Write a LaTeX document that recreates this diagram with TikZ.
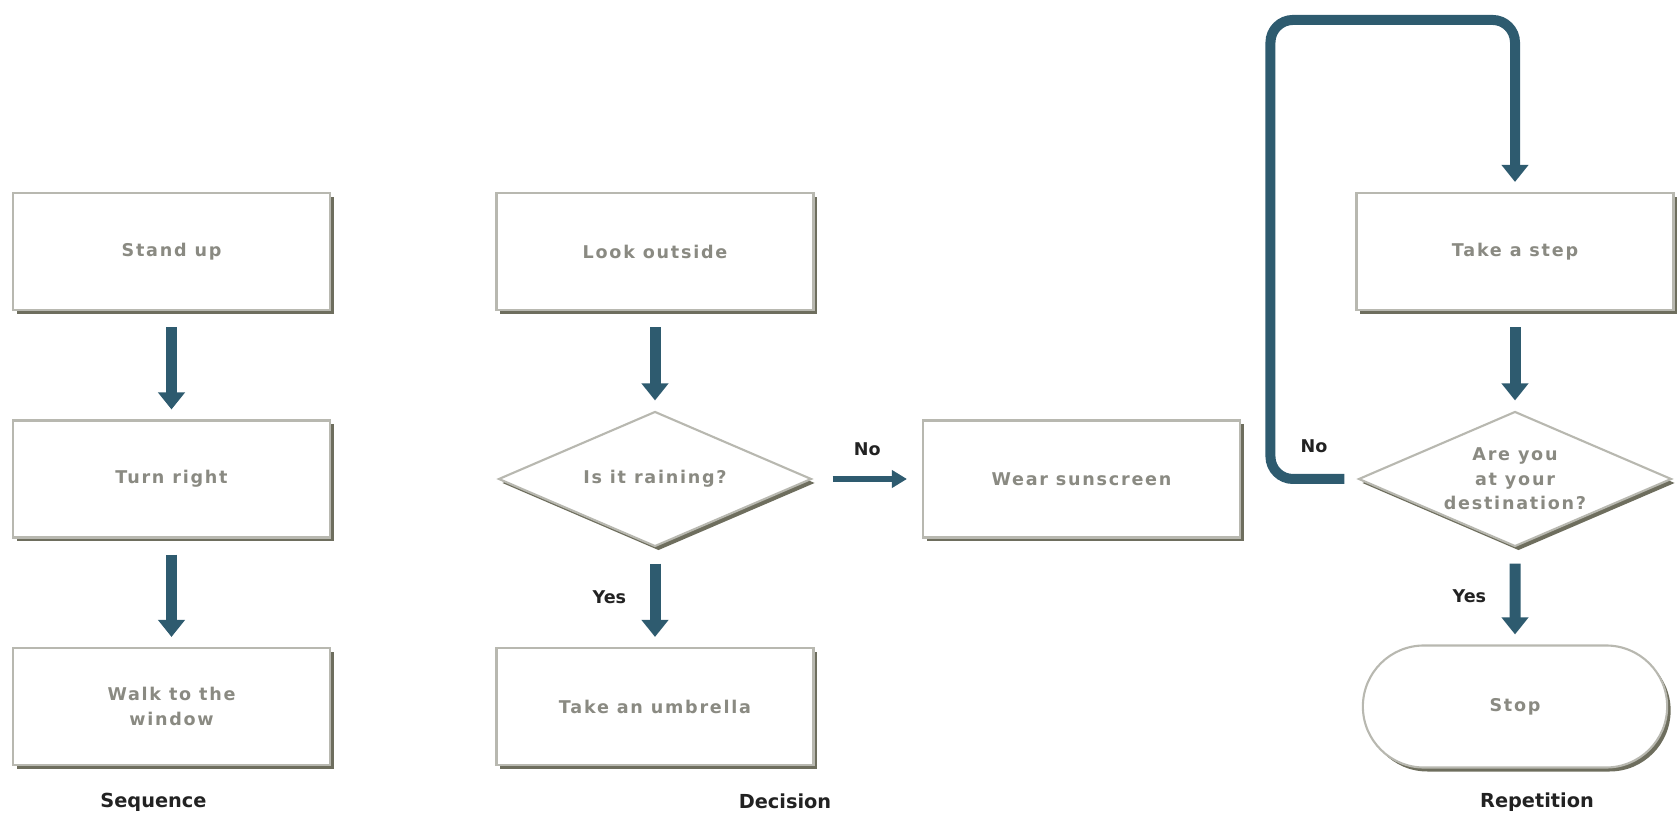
\documentclass[tikz,border=0pt]{standalone}
\usepackage{fontspec}
\usetikzlibrary{positioning, arrows.meta, shapes.geometric, shapes.misc, shadows}
\setmainfont{DejaVu Sans}
\newfontfamily\boxfont[LetterSpace=10]{DejaVu Sans}
\definecolor{flowblue}{HTML}{2E5B6F}
\definecolor{boxline}{HTML}{B8B8B0}
\definecolor{boxshade}{HTML}{6E6E5E}
\definecolor{boxtext}{HTML}{8A8A82}
\definecolor{labeltext}{HTML}{222222}

\begin{document}
\begin{tikzpicture}[node distance=4.55cm, on grid, auto]
                \tikzset{
                    box/.style={rectangle, draw=boxline, line width=1.2pt, fill=white,
                        minimum width=6.34cm, minimum height=2.34cm, align=center,
                        font=\boxfont\bfseries\fontsize{10}{14}\selectfont, text=boxtext,
                        drop shadow={opacity=1, fill=boxshade, shadow xshift=0.07cm, shadow yshift=-0.08cm}},
                    ask/.style={box, diamond, aspect=2.3, minimum width=6.26cm, minimum height=2.7cm, inner sep=0pt},
                    stopbox/.style={box, rounded rectangle, minimum width=6.32cm, minimum height=2.44cm},
                    flow/.style={color=flowblue, line width=0.22cm, -{Triangle[width=0.52cm, length=0.34cm]},
                        shorten <=0.32cm, shorten >=0.2cm},
                    thinflow/.style={color=flowblue, line width=0.11cm, -{Triangle[width=0.34cm, length=0.3cm]},
                        shorten <=0.4cm, shorten >=0.3cm},
                    answer/.style={font=\bfseries\fontsize{10}{12}\selectfont, text=labeltext},
                    caption/.style={font=\bfseries\fontsize{11}{13}\selectfont, text=labeltext}
                }
                \useasboundingbox (0,0) rectangle (33.6,16.28);

                % SEQUENCE
                \node[box] (standup) at (3.43,11.25) {Stand up};
                \node[box] (turnright) [below=of standup] {Turn right};
                \node[box] (walk) [below=of turnright] {Walk to the\\window};
                \node[caption] (seqcap) [below=1.92cm of walk, xshift=-0.36cm] {Sequence};

                % DECISION
                \node[box] (lookout) [right=9.67cm of standup] {Look outside};
                \node[ask] (raining) [below=of lookout] {Is it raining?};
                \node[box] (umbrella) [below=of raining] {Take an umbrella};
                \node[box] (sunscreen) [right=8.53cm of raining] {Wear sunscreen};
                \node[caption] (deccap) [below=1.9cm of umbrella, xshift=2.6cm] {Decision};

                % REPETITION
                \node[box] (takestep) [right=17.2cm of lookout] {Take a step};
                \node[ask] (there) [below=of takestep] {Are you\\at your\\destination?};
                \node[stopbox] (stop) [below=of there] {Stop};
                \node[caption] (repcap) [below=1.92cm of stop, xshift=0.44cm] {Repetition};
                \coordinate (loopcorner) at ([xshift=-1.74cm]there.west);
                \coordinate (looptop) at ([yshift=3.44cm]takestep.north);

                % FLOWS
                \path[flow]
                    (standup) edge (turnright)
                    (turnright) edge (walk)
                    (lookout) edge (raining)
                    (raining) edge node[answer, left=0.35cm] {Yes} (umbrella)
                    (takestep) edge (there)
                    (there) edge node[answer, left=0.35cm] {Yes} (stop);
                \path[thinflow]
                    (raining) edge node[answer, above=0.3cm] {No} (sunscreen);
                \draw[flow, line width=0.2cm, rounded corners=0.45cm, shorten <=0.26cm]
                    (there.west) -- node[answer, above=0.3cm] {No} (loopcorner)
                    |- (looptop) -- (takestep.north);

            \end{tikzpicture}
\end{document}
